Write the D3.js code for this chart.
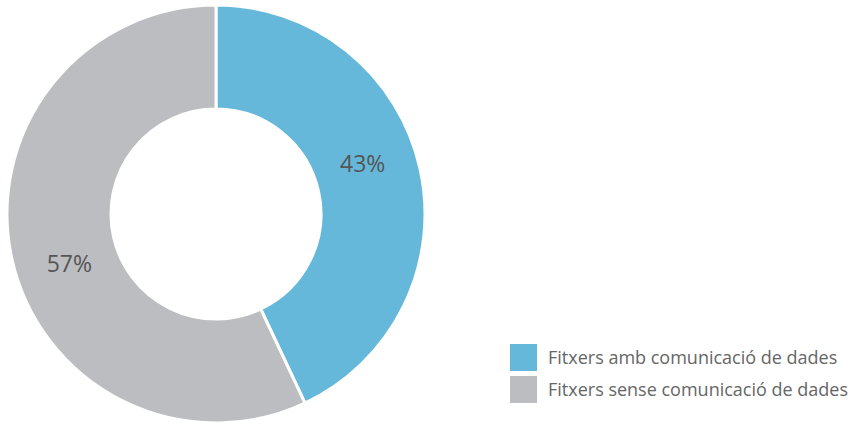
<!DOCTYPE html>
<html><head><meta charset="utf-8">
<script src="https://cdn.jsdelivr.net/npm/d3@7"></script>
<style>body{margin:0;background:#fff}svg{display:block}</style>
</head><body>
<script>
const categories = ["Fitxers amb comunicació de dades", "Fitxers sense comunicació de dades"];
const values = [43, 57];
const labels = ["43%", "57%"];
const colors = ["#66b8db", "#bcbdc1"];

const W = 856, H = 423;
const svg = d3.select("body").append("svg").attr("width", W).attr("height", H);
const cx = 216, cy = 214, R = 209, r = 105;
const pie = d3.pie().sort(null).value(d => d)(values);
const arc = d3.arc().innerRadius(r).outerRadius(R);
const g = svg.append("g").attr("transform", `translate(${cx},${cy})`);
g.selectAll("path").data(pie).join("path")
  .attr("d", arc).attr("fill", (d, i) => colors[i])
  .attr("stroke", "#fff").attr("stroke-width", 3);
g.selectAll("text").data(pie).join("text")
  .attr("transform", d => {
    const a = (d.startAngle + d.endAngle) / 2 - 0.11;
    return `translate(${155 * Math.sin(a)},${-155 * Math.cos(a)})`;
  })
  .attr("text-anchor", "middle").attr("dy", "0.35em")
  .attr("font-family", "'Open Sans', sans-serif").attr("font-size", 23)
  .attr("fill", "#555").text((d, i) => labels[i]);

const leg = svg.append("g").attr("transform", "translate(510,344)");
const items = leg.selectAll("g").data(categories).join("g")
  .attr("transform", (d, i) => `translate(0,${i * 32})`);
items.append("rect").attr("width", 27).attr("height", 27).attr("fill", (d, i) => colors[i]);
items.append("text").attr("x", 38).attr("y", 14).attr("dy", "0.35em")
  .attr("font-family", "'Open Sans', sans-serif").attr("font-size", 18)
  .attr("fill", "#666").text(d => d);
</script>
</body></html>
